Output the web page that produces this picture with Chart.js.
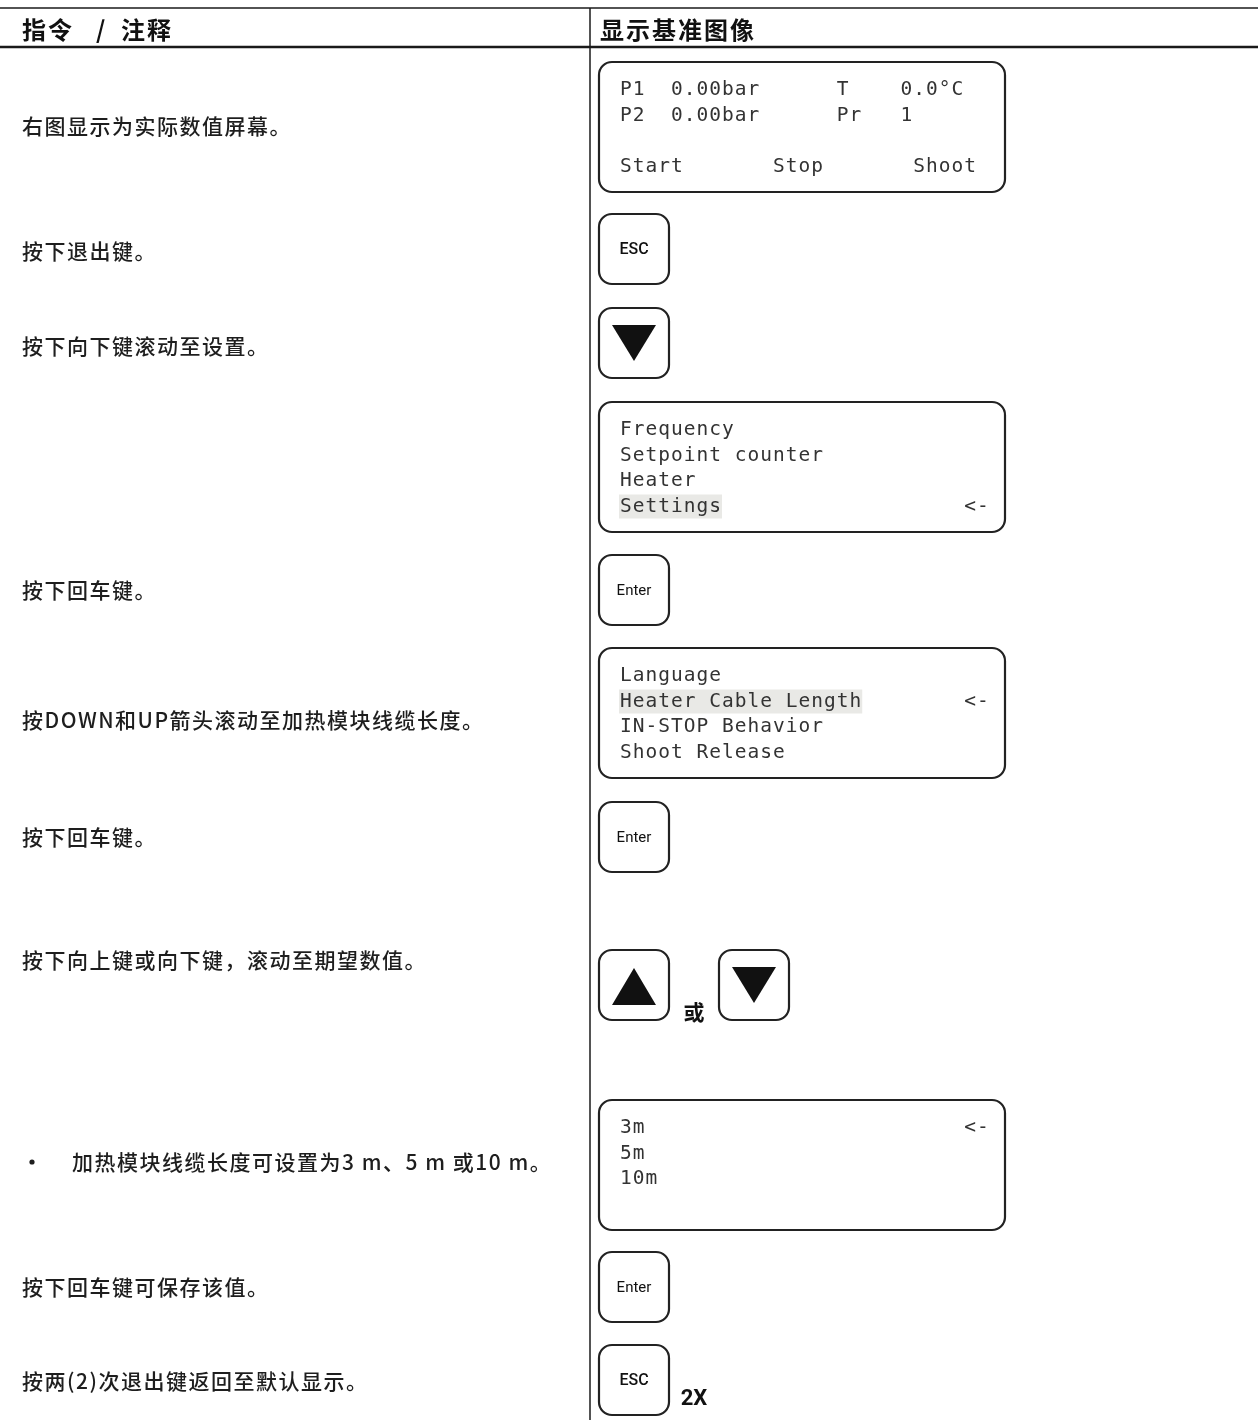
<!DOCTYPE html>
<html><head><meta charset="utf-8">
<script src="https://cdn.jsdelivr.net/npm/chart.js@4/dist/chart.umd.min.js"></script>
<style>html,body{margin:0;padding:0;background:#fff}#c{display:block}</style>
</head><body>
<canvas id="c" width="1258" height="1420"></canvas>
<script>
// ---- content (text data) ----
const headerLeft = ["指令", "/", "注释"];
const headerRight = "显示基准图像";
const instructions = [
  "右图显示为实际数值屏幕。",
  "按下退出键。",
  "按下向下键滚动至设置。",
  "按下回车键。",
  "按DOWN和UP箭头滚动至加热模块线缆长度。",
  "按下回车键。",
  "按下向上键或向下键，滚动至期望数值。",
  "加热模块线缆长度可设置为3 m、5 m 或10 m。",
  "按下回车键可保存该值。",
  "按两(2)次退出键返回至默认显示。"
];
const bulletRows = [7];
const screenMain = ["P1  0.00bar      T    0.0°C", "P2  0.00bar      Pr   1", "", "Start       Stop       Shoot"];
const screenMenu = ["Frequency", "Setpoint counter", "Heater", "Settings                   <-"];
const screenSettings = ["Language", "Heater Cable Length        <-", "IN-STOP Behavior", "Shoot Release"];
const screenLength = ["3m                         <-", "5m", "10m", ""];
const screens = [screenMain, screenMenu, screenSettings, screenLength];
const highlightLines = [null, 3, 1, null];
const keyLabels = ["ESC", "down", "Enter", "Enter", "up", "down", "Enter", "ESC"];
const extraLabels = ["或", "2X"];

// ---- layout (page coordinates, separate from data) ----
const W = 1258, H = 1420, DIV = 590;
const headerLeftX = [22, 96, 121];
const instrY = [126, 251, 346, 590, 720, 837, 960, 1162, 1287, 1381];
const screenTop = [62, 402, 648, 1100];
const keyPos = [[599,214],[599,308],[599,555],[599,802],[599,950],[719,950],[599,1252],[599,1345]];
const extraPos = [[694,1012],[694,1399]];

const pagePlugin = {
  id: 'page',
  afterDraw(chart) {
    const ctx = chart.ctx, sx = chart.scales.x, sy = chart.scales.y;
    const X = v => sx.getPixelForValue(v), Y = v => sy.getPixelForValue(v);
    ctx.save();
    // table rules
    ctx.strokeStyle = '#1a1a1a';
    ctx.lineWidth = 1.5;
    ctx.beginPath(); ctx.moveTo(X(0), Y(8)); ctx.lineTo(X(W), Y(8)); ctx.stroke();
    ctx.lineWidth = 2.5;
    ctx.beginPath(); ctx.moveTo(X(0), Y(47)); ctx.lineTo(X(W), Y(47)); ctx.stroke();
    ctx.lineWidth = 1.5;
    ctx.beginPath(); ctx.moveTo(X(DIV), Y(8)); ctx.lineTo(X(DIV), Y(H)); ctx.stroke();
    // headers
    ctx.fillStyle = '#111';
    ctx.textBaseline = 'middle';
    ctx.textAlign = 'left';
    ctx.font = 'bold 24px "Noto Sans CJK SC"';
    ctx.letterSpacing = '2px';
    headerLeft.forEach((t, i) => ctx.fillText(t, X(headerLeftX[i]), Y(30)));
    ctx.fillText(headerRight, X(600), Y(30));
    // instructions
    ctx.font = '500 21px "Noto Sans CJK SC"';
    ctx.letterSpacing = '1.5px';
    ctx.fillStyle = '#1e1e1e';
    instructions.forEach((t, i) => {
      if (bulletRows.includes(i)) {
        ctx.beginPath(); ctx.arc(X(32), Y(instrY[i]), 2.6, 0, Math.PI*2); ctx.fill();
        ctx.fillText(t, X(72), Y(instrY[i]));
      } else {
        ctx.fillText(t, X(22), Y(instrY[i]));
      }
    });
    ctx.letterSpacing = '0px';
    // rounded rect helper
    const rr = (x, y, w, h, r) => {
      ctx.beginPath();
      ctx.moveTo(x + r, y); ctx.lineTo(x + w - r, y); ctx.arcTo(x + w, y, x + w, y + r, r);
      ctx.lineTo(x + w, y + h - r); ctx.arcTo(x + w, y + h, x + w - r, y + h, r);
      ctx.lineTo(x + r, y + h); ctx.arcTo(x, y + h, x, y + h - r, r);
      ctx.lineTo(x, y + r); ctx.arcTo(x, y, x + r, y, r); ctx.closePath();
    };
    // LCD screens
    const CW = 12.75, FS = 19.5;
    screens.forEach((lines, s) => {
      const top = screenTop[s];
      ctx.strokeStyle = '#222'; ctx.lineWidth = 2.2;
      rr(X(599), Y(top), X(1005) - X(599), Y(top + 130) - Y(top), 13);
      ctx.stroke();
      const hl = highlightLines[s];
      lines.forEach((ln, i) => {
        const ly = top + 28 + 25.5 * i;
        if (hl === i) {
          const label = ln.split(/\s{2,}/)[0];
          ctx.fillStyle = '#e9e9e6';
          ctx.fillRect(X(619), Y(ly - 12), label.length * CW + 1, 24);
        }
        ctx.fillStyle = '#333';
        ctx.font = FS + 'px "DejaVu Sans Mono"';
        ctx.letterSpacing = (CW - FS * 0.602) + 'px';
        ctx.textBaseline = 'middle';
        ctx.fillText(ln, X(620), Y(ly));
        ctx.letterSpacing = '0px';
      });
    });
    // keys
    keyLabels.forEach((k, i) => {
      const [kx, ky] = keyPos[i];
      ctx.strokeStyle = '#222'; ctx.lineWidth = 2.2;
      rr(X(kx), Y(ky), 70, 70, 13);
      ctx.stroke();
      const cx = kx + 35, cy = ky + 35;
      ctx.fillStyle = '#111';
      if (k === 'down') {
        ctx.beginPath(); ctx.moveTo(X(cx - 22), Y(ky + 17)); ctx.lineTo(X(cx + 22), Y(ky + 17));
        ctx.lineTo(X(cx), Y(ky + 53)); ctx.closePath(); ctx.fill();
      } else if (k === 'up') {
        ctx.beginPath(); ctx.moveTo(X(cx), Y(ky + 18)); ctx.lineTo(X(cx + 22), Y(ky + 55));
        ctx.lineTo(X(cx - 22), Y(ky + 55)); ctx.closePath(); ctx.fill();
      } else {
        ctx.textAlign = 'center'; ctx.textBaseline = 'middle';
        ctx.font = k === 'ESC' ? '500 16px "Roboto"' : '15px "Roboto"';
        ctx.fillText(k, X(cx), Y(cy + 1));
        ctx.textAlign = 'left';
      }
    });
    // extra labels
    ctx.fillStyle = '#111';
    ctx.textAlign = 'center'; ctx.textBaseline = 'middle';
    extraLabels.forEach((t, i) => {
      ctx.font = i === 0 ? 'bold 21px "Noto Sans CJK SC"' : 'bold 22px "Roboto"';
      ctx.fillText(t, X(extraPos[i][0]), Y(extraPos[i][1]));
    });
    ctx.restore();
  }
};

new Chart(document.getElementById('c'), {
  type: 'scatter',
  data: { datasets: [{ data: [], pointRadius: 0 }] },
  options: {
    responsive: false, animation: false, devicePixelRatio: 1,
    layout: { padding: 0 },
    plugins: { legend: { display: false }, tooltip: { enabled: false } },
    scales: {
      x: { type: 'linear', min: 0, max: W, display: false },
      y: { type: 'linear', min: 0, max: H, reverse: true, display: false }
    }
  },
  plugins: [pagePlugin]
});
</script>
</body></html>
